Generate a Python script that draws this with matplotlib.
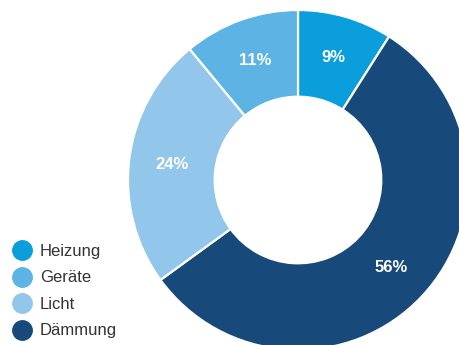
import matplotlib.pyplot as plt
from matplotlib.lines import Line2D

plt.rcParams['font.family'] = ['Liberation Sans', 'DejaVu Sans']

# legend order
categories = ['Heizung', 'Geräte', 'Licht', 'Dämmung']
shares = [9, 11, 24, 56]
colors = ['#0a9fdc', '#5cb3e4', '#93c6eb', '#174a7b']

# clockwise from the top
pie_order = [0, 3, 2, 1]

fig = plt.figure(figsize=(4.6, 3.45), dpi=100)
ax = fig.add_axes([128 / 460, -5 / 345, 340 / 460, 340 / 345])

wedges, _, autotexts = ax.pie(
    [shares[i] for i in pie_order],
    colors=[colors[i] for i in pie_order],
    startangle=90, counterclock=False,
    radius=1.0, pctdistance=0.75,
    autopct=lambda p: f'{p:.0f}%',
    wedgeprops=dict(width=0.51, edgecolor='white', linewidth=1.6),
)
for t in autotexts:
    t.set_color('white')
    t.set_fontsize(12)
    t.set_fontweight('bold')
ax.set_xlim(-1, 1)
ax.set_ylim(-1, 1)
ax.set_aspect('equal')
ax.axis('off')

handles = [Line2D([], [], marker='o', linestyle='none', markersize=14,
                  markerfacecolor=c, markeredgecolor=c) for c in colors]
fig.legend(handles, categories, loc='upper left',
           bbox_to_anchor=(12 / 460, 1 - 244 / 345), frameon=False,
           fontsize=12, labelcolor='#333333', handletextpad=0.48,
           labelspacing=0.69, borderaxespad=0, borderpad=0,
           handlelength=1.2)

fig.savefig('out.png', dpi=100)
